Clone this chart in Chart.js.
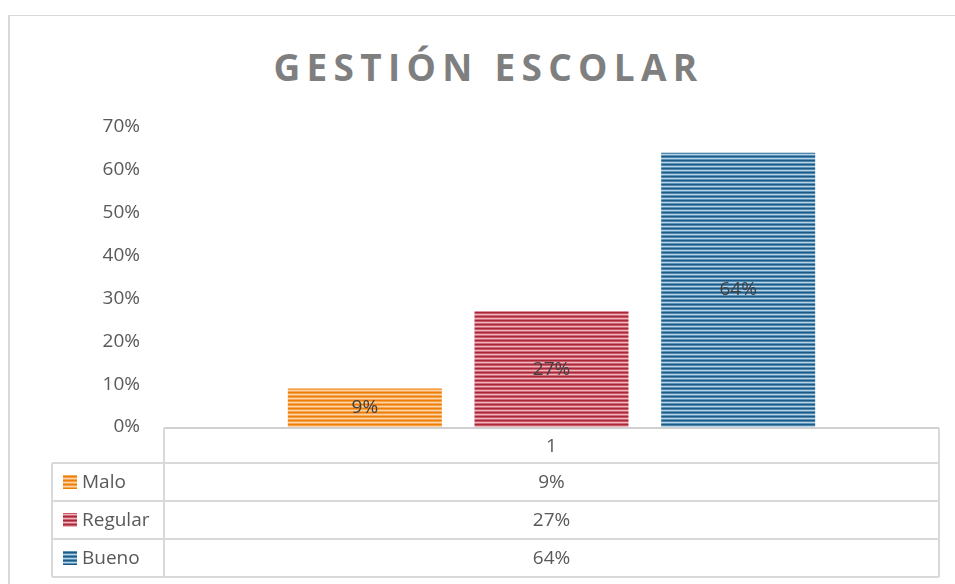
<!DOCTYPE html>
<html>
<head>
<meta charset="utf-8">
<script src="https://cdn.jsdelivr.net/npm/chart.js@4/dist/chart.umd.min.js"></script>
<style>
  html, body { margin: 0; padding: 0; background: #fff; }
  #wrap { position: relative; width: 955px; height: 584px; overflow: hidden; }
  #frame { position: absolute; left: 8px; top: 15px; width: 1000px; height: 700px;
           border-left: 2px solid #D9D9D9; border-top: 1px solid #D9D9D9; box-sizing: border-box; }
  #title { position: absolute; left: 11px; width: 955px; top: 39px; text-align: center;
           font-family: "Open Sans", sans-serif; font-weight: 700; font-size: 37px;
           letter-spacing: 6.3px; color: #7F7F7F; margin: 0; line-height: 56px; }
  canvas { position: absolute; left: 0; top: 0; }
</style>
</head>
<body>
<div id="wrap">
  <div id="frame"></div>
  <h1 id="title">GESTIÓN ESCOLAR</h1>
  <canvas id="c" width="955" height="584"></canvas>
</div>
<script>
// ---- data ----
const categories = ["1"];
const seriesNames = ["Malo", "Regular", "Bueno"];
const seriesValues = [[0.09], [0.27], [0.64]];
const tickValues = [0, 0.1, 0.2, 0.3, 0.4, 0.5, 0.6, 0.7];

// ---- styling ----
const stripeSets = [
  ["#EF7D00", "#F4A14A", "#FBD3A6", "#F5A95A"],
  ["#A8283A", "#C85A68", "#EFB5BD", "#CF6B78"],
  ["#1D5A85", "#4E86AD", "#B7D4E8", "#5E93B8"]
];

function makePattern(cols) {
  const p = document.createElement("canvas");
  p.width = 4; p.height = cols.length;
  const g = p.getContext("2d");
  cols.forEach((c, i) => { g.fillStyle = c; g.fillRect(0, i, 4, 1); });
  return document.getElementById("c").getContext("2d").createPattern(p, "repeat");
}

const fontFam = '"Open Sans", sans-serif';
const textCol = "#595959";
const lineCol = "#D9D9D9";

const tableGeom = { left: 52, split: 164, right: 939, top: 428, headerBottom: 463, rowH: 38 };

const overlay = {
  id: "overlay",
  afterDatasetsDraw(chart) {
    const ctx = chart.ctx;
    ctx.save();
    ctx.font = "19px " + fontFam;
    ctx.fillStyle = "#404040";
    ctx.textAlign = "center";
    ctx.textBaseline = "middle";
    chart.data.datasets.forEach((ds, i) => {
      const meta = chart.getDatasetMeta(i);
      meta.data.forEach((bar, j) => {
        const v = ds.data[j];
        ctx.fillText(Math.round(v * 100) + "%", bar.x, (bar.y + bar.base) / 2);
      });
    });
    ctx.restore();
  },
  afterDraw(chart) {
    const ctx = chart.ctx;
    const area = chart.chartArea;
    const t = tableGeom;
    ctx.save();
    // axis line
    ctx.strokeStyle = "#D0D0D0";
    ctx.lineWidth = 2;
    ctx.beginPath();
    ctx.moveTo(area.left, area.bottom + 1);
    ctx.lineTo(area.right, area.bottom + 1);
    ctx.stroke();
    // table lines
    ctx.strokeStyle = lineCol;
    ctx.lineWidth = 2;
    const n = seriesNames.length;
    const bottom = t.headerBottom + n * t.rowH;
    ctx.beginPath();
    ctx.moveTo(t.split, t.top); ctx.lineTo(t.split, bottom);
    ctx.moveTo(t.right, t.top); ctx.lineTo(t.right, bottom);
    ctx.moveTo(t.left, t.headerBottom); ctx.lineTo(t.left, bottom);
    for (let r = 0; r <= n; r++) {
      const y = t.headerBottom + r * t.rowH;
      ctx.moveTo(t.left, y); ctx.lineTo(t.right, y);
    }
    ctx.stroke();
    // texts
    ctx.font = "19px " + fontFam;
    ctx.fillStyle = textCol;
    ctx.textBaseline = "middle";
    ctx.textAlign = "center";
    const xs = chart.scales.x;
    categories.forEach((c, j) => {
      const cx = xs.getPixelForValue(j);
      ctx.fillText(c, cx, (t.top + t.headerBottom) / 2 + 1);
      seriesValues.forEach((vals, i) => {
        const cy = t.headerBottom + i * t.rowH + t.rowH / 2 + 1;
        ctx.fillText(Math.round(vals[j] * 100) + "%", cx, cy);
      });
    });
    ctx.textAlign = "left";
    seriesNames.forEach((name, i) => {
      const cy = t.headerBottom + i * t.rowH + t.rowH / 2;
      ctx.fillStyle = chart.data.datasets[i].backgroundColor;
      ctx.fillRect(63, cy - 7, 14, 14);
      ctx.fillStyle = textCol;
      ctx.fillText(name, 82, cy + 1);
    });
    ctx.restore();
  }
};

const datasets = seriesNames.map((name, i) => ({
  label: name,
  data: seriesValues[i],
  backgroundColor: makePattern(stripeSets[i]),
  borderWidth: 0,
  categoryPercentage: 0.7226,
  barPercentage: 0.825
}));

new Chart(document.getElementById("c"), {
  type: "bar",
  data: { labels: categories, datasets },
  options: {
    responsive: false,
    animation: false,
    devicePixelRatio: 1,
    layout: { padding: { left: 0, right: 16, top: 127, bottom: 157 } },
    plugins: { legend: { display: false }, tooltip: { enabled: false }, title: { display: false } },
    scales: {
      x: { display: false },
      y: {
        min: 0, max: 0.7,
        afterFit: s => { s.width = 164; },
        afterBuildTicks: s => { s.ticks = tickValues.map(v => ({ value: v })); },
        grid: { display: false, drawTicks: false },
        border: { display: false },
        ticks: {
          padding: 24,
          color: textCol,
          font: { family: fontFam, size: 19 },
          callback: v => Math.round(v * 100) + "%"
        }
      }
    }
  },
  plugins: [overlay]
});
</script>
</body>
</html>
